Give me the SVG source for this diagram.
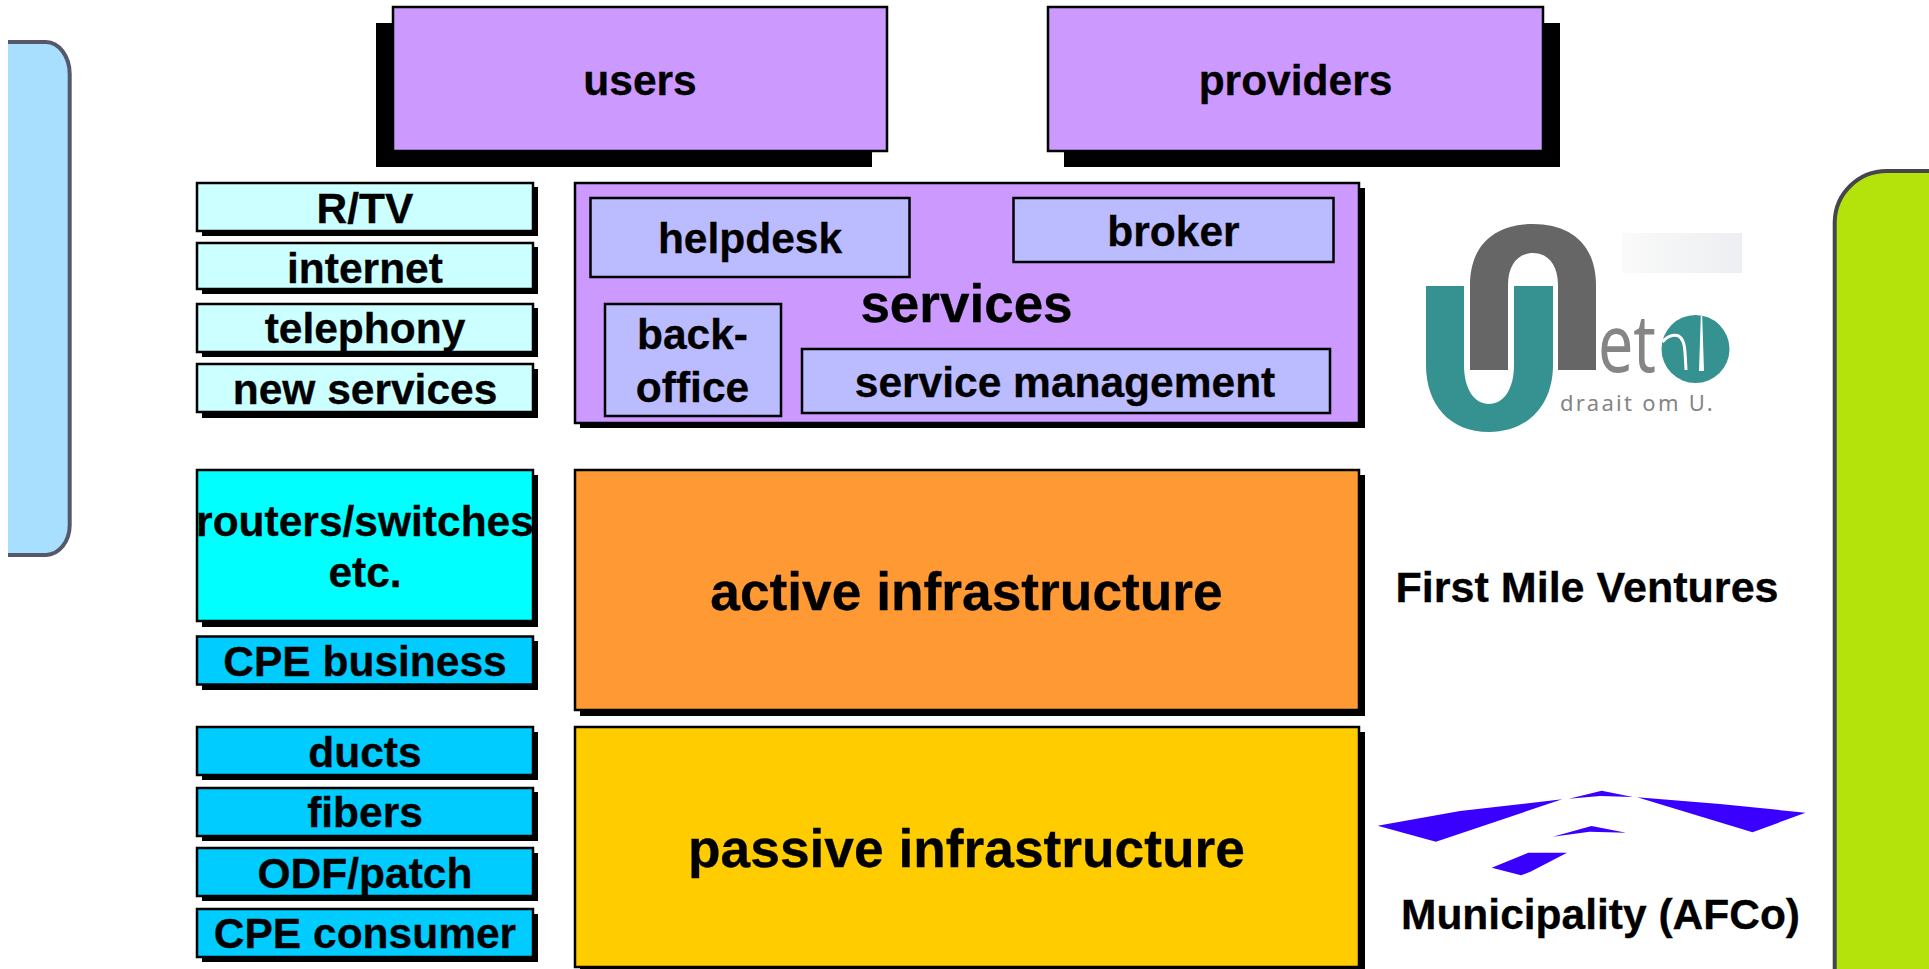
<svg xmlns="http://www.w3.org/2000/svg" width="1929" height="969" viewBox="0 0 1929 969">
<style>
text{font-family:"Liberation Sans",Arial,sans-serif;font-weight:700;fill:#000;stroke:#000;stroke-width:.3;text-anchor:middle;font-size:42.5px}
.big{font-size:53.3px}
.mid{font-size:53px}
.wide{font-size:43.1px}
.b{stroke:#000;stroke-width:2.5}
.s{fill:#000}
.p{fill:#cc99ff}
.q{fill:#bbbbff}
.c{fill:#ccffff}
.d{fill:#00ccff}
.logo{font-family:"Noto Sans","DejaVu Sans",sans-serif;font-weight:400;fill:#858585;stroke:none;text-anchor:start}
.mun{fill:#3a00ff}
.soft{filter:url(#soft)}
</style>
<defs>
<linearGradient id="fade" x1="0" x2="1" y1="0" y2="0"><stop offset="0" stop-color="#fafafa"/><stop offset="1" stop-color="#eceef1"/></linearGradient>
<filter id="soft" x="-5%" y="-5%" width="110%" height="110%"><feGaussianBlur stdDeviation="0.7"/></filter>
</defs>
<rect width="1929" height="969" fill="#fff"/>
<g id="panel-left">
<path d="M8 42H46A24 32 0 0 1 69.700 74V525A24 30 0 0 1 46 555H8Z" fill="#a8defe"/>
<path class="soft" d="M8 42H46A24 32 0 0 1 69.700 74V525A24 30 0 0 1 46 555H8" fill="none" stroke="#55596a" stroke-width="4"/>
<path class="soft" d="M8 558.500H46" fill="none" stroke="#9a9aa0" stroke-width="3"/>
</g>
<g id="panel-right">
<path d="M1929 972H1834.700V222A52 52 0 0 1 1887 171H1929Z" fill="#b4e30c"/>
<path class="soft" d="M1929 971H1834.700V222A52 52 0 0 1 1887 171H1929" fill="none" stroke="#45454d" stroke-width="4"/>
<path class="soft" d="M1887 168.800H1929" fill="none" stroke="#bbbbbb" stroke-width="1.500"/>
</g>
<g id="users"><rect class="s" x="376" y="23" width="496" height="144"/><rect class="b p" x="393" y="7" width="494" height="144"/><text x="640" y="95">users</text></g>
<g id="providers"><rect class="s" x="1064" y="23" width="496" height="144"/><rect class="b p" x="1048" y="7" width="495" height="144"/><text x="1295.500" y="95">providers</text></g>
<g id="r-tv"><rect class="s" x="202" y="187" width="336" height="49"/><rect class="b c" x="197" y="183" width="336" height="48"/><text x="365" y="223">R/TV</text></g>
<g id="internet"><rect class="s" x="202" y="247" width="336" height="47"/><rect class="b c" x="197" y="243" width="336" height="46"/><text x="365" y="282.500">internet</text></g>
<g id="telephony"><rect class="s" x="202" y="308" width="336" height="49"/><rect class="b c" x="197" y="304" width="336" height="48"/><text x="365" y="343">telephony</text></g>
<g id="new-services"><rect class="s" x="202" y="369" width="336" height="49"/><rect class="b c" x="197" y="364" width="336" height="48"/><text x="365" y="404">new services</text></g>
<g id="services"><rect class="s" x="580" y="188" width="785" height="240"/><rect class="b p" x="575" y="183" width="784" height="240"/><text class="mid" x="966.500" y="322">services</text></g>
<g id="helpdesk"><rect class="b q" x="590.500" y="198" width="319" height="79"/><text x="750" y="253">helpdesk</text></g>
<g id="broker"><rect class="b q" x="1013.500" y="198" width="320" height="64"/><text x="1173.500" y="246">broker</text></g>
<g id="back-office"><rect class="b q" x="605" y="304" width="176" height="112"/><text x="692.500" y="349">back-</text><text x="692.500" y="402">office</text></g>
<g id="service-management"><rect class="b q" x="802" y="349" width="528" height="64"/><text x="1065" y="397">service management</text></g>
<g id="routers"><rect class="s" x="202" y="475" width="336" height="152"/><rect class="b" fill="#00ffff" x="197" y="470" width="336" height="151"/><text x="365" y="536">routers/switches</text><text x="365" y="587">etc.</text></g>
<g id="cpe-business"><rect class="s" x="202" y="641" width="336" height="49"/><rect class="b d" x="197" y="636.500" width="336" height="48"/><text x="365" y="676">CPE business</text></g>
<g id="active"><rect class="s" x="580" y="475" width="785" height="241"/><rect class="b" fill="#ff9933" x="575" y="470" width="784" height="240"/><text class="big" x="966.500" y="610">active infrastructure</text></g>
<g id="ducts"><rect class="s" x="202" y="732" width="336" height="48"/><rect class="b d" x="197" y="727" width="336" height="48"/><text x="365" y="767">ducts</text></g>
<g id="fibers"><rect class="s" x="202" y="792" width="336" height="49"/><rect class="b d" x="197" y="788" width="336" height="48"/><text x="365" y="827">fibers</text></g>
<g id="odf-patch"><rect class="s" x="202" y="853" width="336" height="48"/><rect class="b d" x="197" y="848" width="336" height="48"/><text x="365" y="887.500">ODF/patch</text></g>
<g id="cpe-consumer"><rect class="s" x="202" y="914" width="336" height="48"/><rect class="b d" x="197" y="909" width="336" height="48"/><text x="365" y="947.500">CPE consumer</text></g>
<g id="passive"><rect class="s" x="580" y="732" width="785" height="237"/><rect class="b" fill="#ffcc00" x="575" y="727" width="784" height="240"/><text class="big" x="966.500" y="867">passive infrastructure</text></g>
<g id="unet-logo">
<rect x="1622" y="233" width="120" height="40" fill="url(#fade)"/>
<path d="M1470 370V285C1470 245 1495 224 1533 224C1571 224 1596 245 1596 285V370H1558V285C1558 265 1548 253 1533 253C1518 253 1508 265 1508 285V370Z" fill="#666666"/>
<path d="M1426 286H1464V365C1464 390 1475 404 1489 404C1503 404 1514 390 1514 365V286H1553V365C1553 405 1528 432 1489 432C1450 432 1426 405 1426 365Z" fill="#369191"/>
<text class="logo" x="1598" y="372" style="font-size:80px" textLength="58" lengthAdjust="spacingAndGlyphs">et</text>
<circle cx="1695.500" cy="349" r="34" fill="#369191"/>
<path d="M1662.500 342C1668 335 1677 333 1681 338C1685 343 1685 350 1686 370" fill="none" stroke="#fff" stroke-width="3"/>
<polygon points="1700.800,316 1702.200,316 1704,371 1699,371" fill="#fff"/>
<text class="logo" x="1560" y="411" style="font-size:22px;letter-spacing:2.300px">draait om U.</text>
</g>
<g id="first-mile"><text class="wide" x="1587" y="602">First Mile Ventures</text></g>
<g id="municipality-logo">
<polygon class="mun" points="1377.600,825.700 1460,811 1562.200,799.300 1435.900,841.700"/>
<polygon class="mun" points="1569,798.700 1601.700,790.700 1633,797 1600,796"/>
<polygon class="mun" points="1637.200,797.300 1720,804 1805.500,812.700 1752.500,832.300"/>
<polygon class="mun" points="1552.800,836.700 1591.500,826 1626.200,832.700 1589.500,831.700"/>
<polygon class="mun" points="1491.700,867.700 1528.400,852.700 1567.100,852.700 1530.400,871.700 1521,875.300"/>
</g>
<g id="municipality"><text x="1600.500" y="928.500">Municipality (AFCo)</text></g>
</svg>
